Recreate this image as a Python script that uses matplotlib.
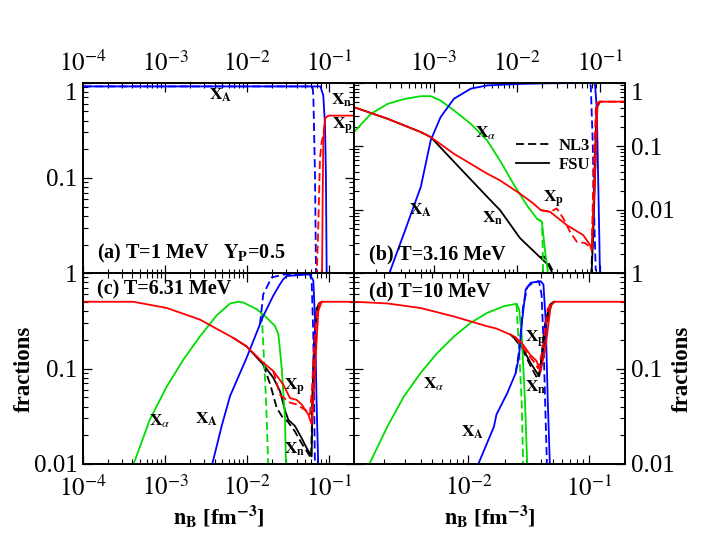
import numpy as np
import matplotlib
matplotlib.use('Agg')
import matplotlib.pyplot as plt
from matplotlib.lines import Line2D
from matplotlib.ticker import FixedLocator, FixedFormatter, LogLocator, NullFormatter

plt.rcParams['font.family'] = ['Liberation Serif', 'DejaVu Serif']
plt.rcParams['mathtext.fontset'] = 'stix'

BLUE = '#0000ff'
RED = '#ff0000'
GREEN = '#00dd00'
BLACK = '#000000'

# ---- panel (a) T=1 MeV ----
a_fsu_A_x = [1e-4, 0.078, 0.0845, 0.0887, 0.091, 0.093]
a_fsu_A_y = [0.91, 0.91, 0.73, 0.36, 0.107, 0.009]
a_nl3_A_x = [1e-4, 0.0627, 0.064, 0.067, 0.069]
a_nl3_A_y = [0.91, 0.91, 0.70, 0.107, 0.009]
a_fsu_p_x = [0.0815, 0.0832, 0.0846, 0.0887, 0.0973, 0.21]
a_fsu_p_y = [0.009, 0.071, 0.24, 0.42, 0.45, 0.45]
a_nl3_p_x = [0.0702, 0.0735, 0.077, 0.0808, 0.0846, 0.0887]
a_nl3_p_y = [0.009, 0.032, 0.16, 0.24, 0.28, 0.42]

# ---- panel (b) T=3.16 MeV ----
b_fsu_p_x = [1.1e-4, 2.77e-4, 6.97e-4, 9.2e-4, 1.75e-3, 4.4e-3, 6.28e-3, 0.0109, 0.0158,
             0.0194, 0.0251, 0.0399, 0.063, 0.076, 0.0796, 0.0873, 0.093, 0.1, 0.21]
b_fsu_p_y = [0.41, 0.27, 0.167, 0.139, 0.076, 0.037, 0.029, 0.018, 0.0126,
             0.0099, 0.0093, 0.00575, 0.0040, 0.0028, 0.0023, 0.035, 0.44, 0.50, 0.50]
b_nl3_p_x = [0.0194, 0.0251, 0.0302, 0.0363, 0.0437, 0.0526, 0.0662, 0.0796, 0.0834, 0.0897, 0.1, 0.21]
b_nl3_p_y = [0.0099, 0.0093, 0.0105, 0.0073, 0.0045, 0.00315, 0.0030, 0.0025, 0.035, 0.47, 0.50, 0.50]
b_fsu_A_x = [2.77e-4, 4.4e-4, 7e-4, 9.2e-4, 1.21e-3, 1.75e-3, 2.79e-3, 4.4e-3, 0.0111, 0.028,
             0.08, 0.085, 0.0873, 0.0916, 0.0949, 0.0984, 0.1]
b_fsu_A_y = [0.00083, 0.0043, 0.023, 0.123, 0.286, 0.555, 0.80, 0.90, 0.95, 0.975,
             0.98, 0.99, 0.9, 0.39, 0.035, 0.0032, 0.0009]
b_nl3_A_x = [0.028, 0.07, 0.0775, 0.0818, 0.0857, 0.089]
b_nl3_A_y = [0.975, 0.985, 0.9, 0.116, 0.0057, 0.0011]
b_fsu_al_x = [1.1e-4, 1.75e-4, 2.77e-4, 4.4e-4, 7e-4, 9.2e-4, 1.21e-3, 1.75e-3, 2.79e-3,
              4.4e-3, 6.5e-3, 9.1e-3, 0.0132, 0.0174, 0.0200, 0.0219, 0.0239]
b_fsu_al_y = [0.167, 0.32, 0.46, 0.55, 0.61, 0.61, 0.52, 0.364, 0.225,
              0.123, 0.055, 0.0255, 0.0118, 0.0073, 0.0065, 0.0022, 0.00095]
b_nl3_al_x = [0.0174, 0.0200, 0.0203, 0.0208]
b_nl3_al_y = [0.0073, 0.0065, 0.004, 0.00095]
b_fsu_n_x = [1.1e-4, 2.77e-4, 6.97e-4, 9.2e-4, 1.75e-3, 4.4e-3, 6.28e-3, 0.0109, 0.019, 0.0239, 0.0275]
b_fsu_n_y = [0.41, 0.27, 0.167, 0.139, 0.057, 0.016, 0.0099, 0.0036, 0.0018, 0.00136, 0.00095]
b_nl3_n_x = [0.019, 0.0212, 0.0245, 0.0288]
b_nl3_n_y = [0.0018, 0.00185, 0.0014, 0.00095]
b_fsu_nh_x = [0.0790, 0.0835, 0.0875, 0.093, 0.1]
b_fsu_nh_y = [0.0009, 0.005, 0.04, 0.42, 0.5]
b_nl3_nh_x = [0.0785, 0.082, 0.086, 0.091, 0.1]
b_nl3_nh_y = [0.0009, 0.005, 0.04, 0.42, 0.5]

# ---- panel (c) T=6.31 MeV ----
c_fsu_p_x = [1e-4, 4.1e-4, 1.05e-3, 2.66e-3, 6.78e-3, 9.86e-3, 0.0157, 0.0208, 0.0275, 0.0332,
             0.040, 0.0461, 0.0555, 0.061, 0.0639, 0.0689, 0.0735, 0.0807, 0.21]
c_fsu_p_y = [0.5, 0.5, 0.43, 0.325, 0.209, 0.17, 0.115, 0.094, 0.068, 0.049,
             0.047, 0.042, 0.033, 0.026, 0.045, 0.152, 0.40, 0.50, 0.50]
c_nl3_p_x = [0.0208, 0.0251, 0.0332, 0.040, 0.053, 0.058, 0.0615, 0.066, 0.071, 0.078]
c_nl3_p_y = [0.094, 0.053, 0.044, 0.042, 0.036, 0.033, 0.06, 0.2, 0.42, 0.5]
c_fsu_n_x = [6.78e-3, 9.86e-3, 0.0157, 0.0208, 0.0251, 0.029, 0.0317, 0.0382, 0.046, 0.053,
             0.061, 0.0625, 0.0655, 0.070, 0.075, 0.081]
c_fsu_n_y = [0.209, 0.17, 0.11, 0.08, 0.058, 0.036, 0.029, 0.025, 0.0187, 0.0147,
             0.012, 0.05, 0.2, 0.42, 0.48, 0.5]
c_nl3_n_x = [0.0157, 0.0191, 0.0229, 0.0275, 0.031, 0.038, 0.046, 0.055, 0.060, 0.0625, 0.066, 0.071, 0.078]
c_nl3_n_y = [0.11, 0.068, 0.0387, 0.030, 0.028, 0.022, 0.0165, 0.013, 0.0115, 0.05, 0.2, 0.42, 0.5]
c_fsu_A_x = [3.7e-3, 4.93e-3, 6.18e-3, 9.86e-3, 0.0157, 0.0208, 0.025, 0.0275, 0.0303,
             0.058, 0.0639, 0.0669, 0.070, 0.0735]
c_fsu_A_y = [0.0095, 0.0257, 0.0514, 0.13, 0.355, 0.58, 0.76, 0.86, 0.93,
             0.97, 0.83, 0.34, 0.045, 0.009]
c_nl3_A_x = [0.0143, 0.0157, 0.0199, 0.029, 0.058, 0.061, 0.0638, 0.0669]
c_nl3_A_y = [0.29, 0.6, 0.9, 0.97, 0.97, 0.83, 0.23, 0.009]
c_fsu_al_x = [4.1e-4, 6.5e-4, 1.05e-3, 1.67e-3, 2.66e-3, 4.25e-3, 6.2e-3, 7.8e-3, 9e-3,
              0.0131, 0.0173, 0.0218, 0.024, 0.0263, 0.0289, 0.0297]
c_fsu_al_y = [0.0098, 0.029, 0.065, 0.124, 0.217, 0.36, 0.48, 0.50, 0.49,
              0.417, 0.34, 0.279, 0.228, 0.102, 0.030, 0.009]
c_nl3_al_x = [0.0150, 0.0157, 0.0170, 0.0181]
c_nl3_al_y = [0.38, 0.18, 0.045, 0.009]

# ---- panel (d) T=10 MeV ----
d_fsu_p_x = [1.12e-3, 2.12e-3, 4e-3, 7.6e-3, 0.0143, 0.0171, 0.0224, 0.0243, 0.0277, 0.0325,
             0.0368, 0.0398, 0.0438, 0.0482, 0.0513, 0.21]
d_fsu_p_y = [0.5, 0.48, 0.43, 0.35, 0.277, 0.262, 0.226, 0.215, 0.186, 0.14,
             0.12, 0.093, 0.17, 0.45, 0.5, 0.5]
d_nl3_p_x = [0.0243, 0.028, 0.032, 0.0355, 0.038, 0.0415, 0.0455, 0.0495]
d_nl3_p_y = [0.215, 0.17, 0.135, 0.115, 0.10, 0.16, 0.42, 0.5]
d_fsu_n_x = [0.0224, 0.0243, 0.0277, 0.0329, 0.0387, 0.041, 0.0445, 0.049, 0.052]
d_fsu_n_y = [0.226, 0.205, 0.17, 0.114, 0.083, 0.12, 0.3, 0.47, 0.5]
d_nl3_n_x = [0.0243, 0.028, 0.033, 0.0375, 0.0395, 0.043, 0.047, 0.051]
d_nl3_n_y = [0.205, 0.16, 0.105, 0.078, 0.1, 0.28, 0.46, 0.5]
d_fsu_A_x = [0.012, 0.0163, 0.0171, 0.021, 0.0247, 0.0263, 0.028, 0.0299, 0.0329, 0.0398,
             0.042, 0.0438, 0.0457, 0.0475]
d_fsu_A_y = [0.0098, 0.0246, 0.033, 0.055, 0.0896, 0.134, 0.325, 0.67, 0.79, 0.82,
             0.76, 0.325, 0.043, 0.0098]
d_nl3_A_x = [0.0247, 0.0263, 0.0285, 0.031, 0.035, 0.0385, 0.0405, 0.042, 0.0435, 0.045]
d_nl3_A_y = [0.0896, 0.15, 0.45, 0.72, 0.8, 0.82, 0.6, 0.2, 0.04, 0.009]
d_fsu_al_x = [1.49e-3, 2.12e-3, 2.91e-3, 4e-3, 5.5e-3, 7.6e-3, 0.0104, 0.0143, 0.0197, 0.0251,
              0.0264, 0.0277, 0.0295, 0.0308]
d_fsu_al_y = [0.0098, 0.0246, 0.051, 0.0896, 0.145, 0.217, 0.30, 0.382, 0.449, 0.476,
              0.417, 0.228, 0.0455, 0.0098]
d_nl3_al_x = [0.0251, 0.0264, 0.0277, 0.0285]
d_nl3_al_y = [0.476, 0.152, 0.0455, 0.0098]

xtick_vals = [1e-4, 1e-3, 1e-2, 1e-1]
xtick_text = [r'$10^{-4}$', r'$10^{-3}$', r'$10^{-2}$', r'$10^{-1}$']


def style(ax, xlim, ylim, ylabels, xside, yside):
    ax.set_xscale('log')
    ax.set_yscale('log')
    ax.set_xlim(xlim)
    ax.set_ylim(ylim)
    ax.xaxis.set_major_locator(FixedLocator(xtick_vals))
    ax.xaxis.set_major_formatter(FixedFormatter(xtick_text))
    yv = [v for v in [1e-3, 1e-2, 1e-1, 1.0] if v >= ylim[0] * 0.999]
    ax.yaxis.set_major_locator(FixedLocator(yv))
    ax.yaxis.set_major_formatter(FixedFormatter(ylabels))
    for axis in (ax.xaxis, ax.yaxis):
        axis.set_minor_locator(LogLocator(base=10, subs=np.arange(2, 10) * 1.0, numticks=20))
        axis.set_minor_formatter(NullFormatter())
    ax.tick_params(which='both', direction='in', top=True, right=True,
                   labeltop=(xside == 'top'), labelbottom=(xside == 'bottom'),
                   labelleft=(yside == 'left'), labelright=(yside == 'right'))
    ax.tick_params(which='major', length=6.5, width=0.9, labelsize=18, pad=4)
    ax.tick_params(axis='x', which='major', pad=5 if xside == 'top' else 8)
    ax.tick_params(which='minor', length=3.4, width=0.8)
    for s in ax.spines.values():
        s.set_linewidth(1.4)


def curve(ax, x, y, color, dashed=False):
    ls = (0, (4.5, 2.2)) if dashed else '-'
    ax.plot(x, y, color=color, lw=1.3, ls=ls)


def lab(ax, fx, fy, s, size=12.5, ha='center'):
    ax.text(fx, fy, s, transform=ax.transAxes, fontsize=size, ha=ha, va='center',
            fontweight='bold')


fig = plt.figure(figsize=(7.08, 5.47), dpi=100)
W = 271 / 708
H = 191 / 547
axa = fig.add_axes([83 / 708, 0.5, W, H])
axb = fig.add_axes([354 / 708, 0.5, W, H])
axc = fig.add_axes([83 / 708, 83 / 547, W, H])
axd = fig.add_axes([354 / 708, 83 / 547, W, H])

style(axa, (1e-4, 0.2), (0.01, 1), ['', '0.1', '1'], 'top', 'left')
style(axb, (1.1e-4, 0.2), (0.001, 1), ['', '0.01', '0.1', '1'], 'top', 'right')
style(axc, (1e-4, 0.2), (0.01, 1), ['0.01', '0.1', '1'], 'bottom', 'left')
style(axd, (1.12e-3, 0.2), (0.01, 1), ['0.01', '0.1', '1'], 'bottom', 'right')

# the "1" at the top of the upper panels sits just under its tick
fig.canvas.draw()
for ax in (axa, axb):
    for t in ax.yaxis.get_majorticklabels():
        if t.get_text() == '1':
            t.set_verticalalignment('top')

# (a)
curve(axa, a_nl3_A_x, a_nl3_A_y, BLUE, True)
curve(axa, a_fsu_A_x, a_fsu_A_y, BLUE)
curve(axa, a_nl3_p_x, a_nl3_p_y, RED, True)
curve(axa, a_fsu_p_x, a_fsu_p_y, RED)
lab(axa, 0.506, 0.932, r'$\mathbf{X_A}$')
lab(axa, 0.956, 0.906, r'$\mathbf{X_n}$')
lab(axa, 0.959, 0.77, r'$\mathbf{X_p}$')
lab(axa, 0.052, 0.107, r'(a) T=1 MeV   $\mathbf{Y_P}$=0.5', size=14.5, ha='left')

# (b)
curve(axb, b_fsu_n_x, b_fsu_n_y, BLACK)
curve(axb, b_nl3_n_x, b_nl3_n_y, BLACK, True)
curve(axb, b_fsu_nh_x, b_fsu_nh_y, BLACK)
curve(axb, b_nl3_nh_x, b_nl3_nh_y, BLACK, True)
curve(axb, b_fsu_al_x, b_fsu_al_y, GREEN)
curve(axb, b_nl3_al_x, b_nl3_al_y, GREEN, True)
curve(axb, b_fsu_A_x, b_fsu_A_y, BLUE)
curve(axb, b_nl3_A_x, b_nl3_A_y, BLUE, True)
curve(axb, b_nl3_p_x, b_nl3_p_y, RED, True)
curve(axb, b_fsu_p_x, b_fsu_p_y, RED)
lab(axb, 0.486, 0.732, r'$\mathbf{X}_{\alpha}$')
lab(axb, 0.246, 0.332, r'$\mathbf{X_A}$')
lab(axb, 0.51, 0.288, r'$\mathbf{X_n}$')
lab(axb, 0.738, 0.387, r'$\mathbf{X_p}$')
lab(axb, 0.055, 0.097, '(b) T=3.16 MeV', size=14.5, ha='left')
handles = [Line2D([], [], color=BLACK, lw=1.3, ls=(0, (4.5, 2.2))),
           Line2D([], [], color=BLACK, lw=1.3)]
axb.legend(handles, ['NL3', 'FSU'], loc='center left', bbox_to_anchor=(0.597, 0.619),
           frameon=False, prop={'weight': 'bold', 'size': 12}, handlelength=2.0,
           handletextpad=0.6, labelspacing=0.15, borderpad=0, borderaxespad=0)

# (c)
curve(axc, c_fsu_n_x, c_fsu_n_y, BLACK)
curve(axc, c_nl3_n_x, c_nl3_n_y, BLACK, True)
curve(axc, c_fsu_al_x, c_fsu_al_y, GREEN)
curve(axc, c_nl3_al_x, c_nl3_al_y, GREEN, True)
curve(axc, c_fsu_A_x, c_fsu_A_y, BLUE)
curve(axc, c_nl3_A_x, c_nl3_A_y, BLUE, True)
curve(axc, c_nl3_p_x, c_nl3_p_y, RED, True)
curve(axc, c_fsu_p_x, c_fsu_p_y, RED)
lab(axc, 0.284, 0.226, r'$\mathbf{X}_{\alpha}$')
lab(axc, 0.456, 0.235, r'$\mathbf{X_A}$')
lab(axc, 0.782, 0.402, r'$\mathbf{X_p}$')
lab(axc, 0.782, 0.075, r'$\mathbf{X_n}$')
lab(axc, 0.05, 0.914, '(c) T=6.31 MeV', size=14.5, ha='left')
axc.set_ylabel('fractions', fontsize=16.5, fontweight='bold', labelpad=-1)
axc.set_xlabel(r'$\mathbf{n_B}$ [fm$^{\mathbf{-3}}$]', fontsize=16, fontweight='bold', labelpad=2)

# (d)
curve(axd, d_fsu_n_x, d_fsu_n_y, BLACK)
curve(axd, d_nl3_n_x, d_nl3_n_y, BLACK, True)
curve(axd, d_fsu_al_x, d_fsu_al_y, GREEN)
curve(axd, d_nl3_al_x, d_nl3_al_y, GREEN, True)
curve(axd, d_fsu_A_x, d_fsu_A_y, BLUE)
curve(axd, d_nl3_A_x, d_nl3_A_y, BLUE, True)
curve(axd, d_nl3_p_x, d_nl3_p_y, RED, True)
curve(axd, d_fsu_p_x, d_fsu_p_y, RED)
lab(axd, 0.295, 0.418, r'$\mathbf{X}_{\alpha}$')
lab(axd, 0.437, 0.166, r'$\mathbf{X_A}$')
lab(axd, 0.67, 0.653, r'$\mathbf{X_p}$')
lab(axd, 0.67, 0.40, r'$\mathbf{X_n}$')
lab(axd, 0.055, 0.905, '(d) T=10 MeV', size=14.5, ha='left')
axd.yaxis.set_label_position('right')
axd.set_ylabel('fractions', fontsize=16.5, fontweight='bold', labelpad=-2)
axd.set_xlabel(r'$\mathbf{n_B}$ [fm$^{\mathbf{-3}}$]', fontsize=16, fontweight='bold', labelpad=2)

fig.savefig('out.png', dpi=100)
